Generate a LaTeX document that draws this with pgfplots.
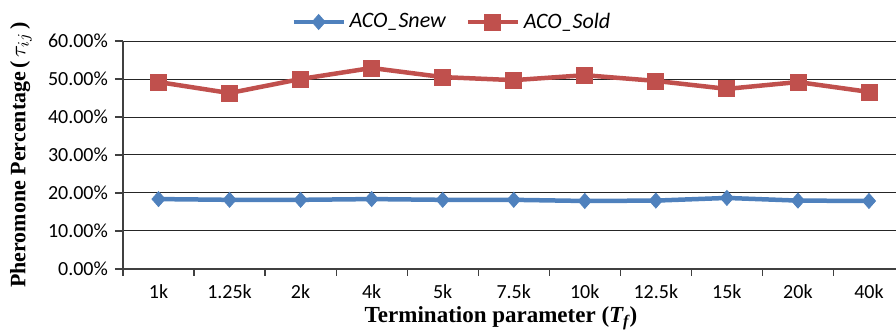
\documentclass[border=0pt]{standalone}
\usepackage{fontspec}
\setmainfont{Carlito}
\newfontfamily\serifbf{Liberation Serif}
\usepackage{pgfplots}
\pgfplotsset{compat=1.18}
\definecolor{cblue}{HTML}{4F81BD}
\definecolor{cred}{HTML}{C0504D}
\begin{document}
\begin{tikzpicture}
\useasboundingbox (-61.5pt,-31pt) rectangle (386.5pt,134.5pt);
\begin{axis}[
  at={(0,0)}, anchor=south west, scale only axis,
  width=390.75pt, height=114pt,
  xmin=-0.5, xmax=10.5, ymin=0, ymax=60,
  axis x line=bottom, axis y line=left,
  axis line style={-, draw=black!75, line width=0.6pt},
  ymajorgrids, grid style={black!85, line width=0.5pt},
  ytick={0,10,...,60},
  yticklabels={0.00\%,10.00\%,20.00\%,30.00\%,40.00\%,50.00\%,60.00\%},
  xtick={0,...,10},
  xticklabels={1k,1.25k,2k,4k,5k,7.5k,10k,12.5k,15k,20k,40k},
  minor xtick={-0.5,0.5,...,9.5},
  tick align=outside,
  major x tick style={draw=none},
  minor x tick style={draw=black!75, line width=0.6pt},
  major y tick style={draw=black!75, line width=0.6pt},
  major tick length=4pt, minor tick length=3.5pt,
  tick label style={font=\fontsize{10}{12}\selectfont},
  xticklabel style={anchor=base, yshift=-11pt},
  yticklabel style={anchor=east},
  xlabel={\serifbf\bfseries Termination parameter (\textit{T\textsubscript{f}})},
  xlabel style={at={(axis description cs:0,0)}, anchor=center, xshift=189pt, yshift=-24.5pt, font=\fontsize{11.5}{13}\selectfont},
  ylabel={\serifbf\bfseries Pheromone Percentage\,(\,$\tau_{ij}$\,)},
  ylabel style={at={(axis description cs:0,0.5)}, anchor=center, yshift=51pt, font=\fontsize{11}{13}\selectfont},
  legend style={at={(axis description cs:0,1)}, anchor=center, xshift=165pt, yshift=9.5pt,
    draw=none, fill=none, legend columns=2, font=\itshape\fontsize{11}{13}\selectfont,
    /tikz/every even column/.append style={column sep=8pt}},
  legend image code/.code={
    \draw[#1, line width=2pt] (0pt,0pt) -- (25pt,0pt);
    \draw[#1, only marks] plot coordinates {(12.5pt,0pt)};
  },
]
\addplot[cblue, line width=2.25pt, mark=diamond*, mark size=3.75pt,
  mark options={solid, line width=0.4pt, xscale=1.17}]
  coordinates {(0,18.4) (1,18.2) (2,18.2) (3,18.4) (4,18.2) (5,18.2) (6,17.9) (7,18.0) (8,18.7) (9,18.0) (10,17.9)};
\addlegendentry{ACO\_Snew}
\addplot[cred, line width=2.25pt, mark=square*, mark size=4pt,
  mark options={solid, line width=0.4pt}]
  coordinates {(0,49.2) (1,46.3) (2,50.0) (3,52.9) (4,50.5) (5,49.7) (6,51.0) (7,49.5) (8,47.4) (9,49.2) (10,46.6)};
\addlegendentry{ACO\_Sold}
\end{axis}
\end{tikzpicture}
\end{document}
